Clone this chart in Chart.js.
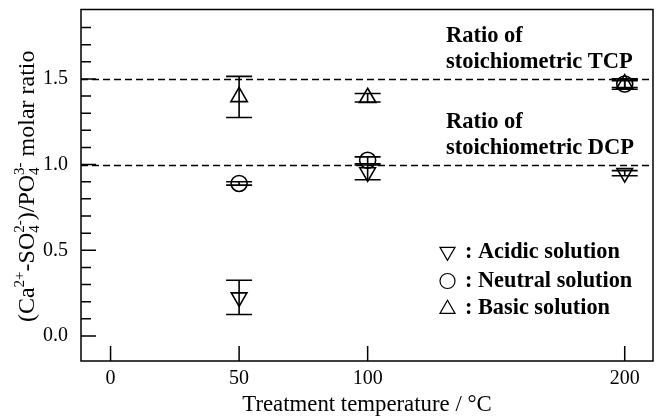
<!DOCTYPE html>
<html>
<head>
<meta charset="utf-8">
<script src="https://cdn.jsdelivr.net/npm/chart.js@4/dist/chart.umd.min.js"></script>
<style>
  html, body { margin: 0; padding: 0; background: #fff; }
  #wrap { width: 660px; height: 419px; }
</style>
</head>
<body>
<div id="wrap"><canvas id="c" width="660" height="419"></canvas></div>
<script>
// Treatment temperatures (°C) and measured molar ratios with their error bars
const temperatures = [50, 100, 200];
const acidicRatio  = [0.225, 0.955, 0.95];
const acidicErr    = [0.10, 0.043, 0.015];
const neutralRatio = [0.89, 1.025, 1.47];
const neutralErr   = [0.01, 0.02, 0.02];
const basicRatio   = [1.395, 1.39, 1.47];
const basicErr     = [0.12, 0.025, 0.03];

// Axis ticks
const xTickValues = [0, 50, 100, 200];
const yTickValues = [0.0, 0.5, 1.0, 1.5];
const yMinorStep = 0.1;
const yMinorMax = 1.8;

// Stoichiometric reference ratios and their labels
const refRatios = [1.5, 1.0];
const refLabels = [["Ratio of", "stoichiometric TCP"], ["Ratio of", "stoichiometric DCP"]];

const seriesNames = ["Acidic solution", "Neutral solution", "Basic solution"];

const SERIF = "'Liberation Serif', 'Times New Roman', serif";

// plot box inside the 660 x 419 canvas
const PLOT = { left: 81, top: 9.5, right: 653, bottom: 361 };

function toPoints(xs, ys) { return xs.map((x, i) => ({ x: x, y: ys[i] })); }

const errorSets = [acidicErr, neutralErr, basicErr];

function drawShape(ctx, style, x, y, r) {
  ctx.beginPath();
  if (style === 'circle') {
    ctx.arc(x, y, r, 0, Math.PI * 2);
  } else {
    const dir = style === 'down' ? 1 : -1;
    const h = r * Math.sqrt(3) / 2;
    ctx.moveTo(x, y + dir * r);
    ctx.lineTo(x - h, y - dir * r / 2);
    ctx.lineTo(x + h, y - dir * r / 2);
    ctx.closePath();
  }
  ctx.stroke();
}

// pin the chart area and both scales to the fixed plot box
const boxPlugin = {
  id: 'fixedBox',
  afterLayout(chart) {
    const { x, y } = chart.scales;
    const w = PLOT.right - PLOT.left, h = PLOT.bottom - PLOT.top;
    Object.assign(chart.chartArea, PLOT, { width: w, height: h });
    Object.assign(x, { left: PLOT.left, right: PLOT.right, width: w, top: PLOT.bottom, bottom: chart.height, height: chart.height - PLOT.bottom });
    Object.assign(y, { left: 0, right: PLOT.left, width: PLOT.left, top: PLOT.top, bottom: PLOT.bottom, height: h });
    x.configure();
    y.configure();
  }
};

const decorPlugin = {
  id: 'decor',
  beforeDatasetsDraw(chart) {
    const { ctx, chartArea: a, scales: { x, y } } = chart;
    ctx.save();
    // dashed stoichiometric reference lines
    ctx.strokeStyle = '#000';
    ctx.lineWidth = 1.3;
    ctx.setLineDash([7, 4]);
    refRatios.forEach(v => {
      const py = Math.round(y.getPixelForValue(v)) + 0.5;
      ctx.beginPath();
      ctx.moveTo(a.left, py);
      ctx.lineTo(a.right, py);
      ctx.stroke();
    });
    ctx.setLineDash([]);
    // error bars
    ctx.lineWidth = 1.6;
    chart.data.datasets.forEach((ds, di) => {
      const errs = errorSets[di];
      ds.data.forEach((p, i) => {
        const px = x.getPixelForValue(p.x);
        const top = y.getPixelForValue(p.y + errs[i]);
        const bot = y.getPixelForValue(p.y - errs[i]);
        ctx.beginPath();
        ctx.moveTo(px, top); ctx.lineTo(px, bot);
        ctx.moveTo(px - 13, top); ctx.lineTo(px + 13, top);
        ctx.moveTo(px - 13, bot); ctx.lineTo(px + 13, bot);
        ctx.stroke();
      });
    });
    ctx.restore();
  },
  afterDraw(chart) {
    const { ctx, chartArea: a, scales: { x, y } } = chart;
    ctx.save();
    ctx.strokeStyle = '#000';
    ctx.fillStyle = '#000';
    // frame
    ctx.lineWidth = 1.5;
    ctx.strokeRect(a.left, a.top, a.right - a.left, a.bottom - a.top);
    // inward tick marks
    ctx.beginPath();
    for (let v = 0; v <= yMinorMax + 1e-9; v += yMinorStep) {
      const val = Math.round(v * 10) / 10;
      const major = yTickValues.some(t => Math.abs(t - val) < 1e-6);
      const py = y.getPixelForValue(val);
      ctx.moveTo(a.left, py);
      ctx.lineTo(a.left + (major ? 15 : 10), py);
    }
    xTickValues.forEach(v => {
      const px = x.getPixelForValue(v);
      ctx.moveTo(px, a.bottom);
      ctx.lineTo(px, a.bottom - 15);
    });
    ctx.stroke();

    // reference labels
    ctx.font = "bold 22.5px " + SERIF;
    ctx.textAlign = 'left';
    ctx.textBaseline = 'alphabetic';
    refRatios.forEach((v, i) => {
      const py = y.getPixelForValue(v);
      ctx.fillText(refLabels[i][0], 446, py - 37);
      ctx.fillText(refLabels[i][1], 446, py - 10.5);
    });

    // legend
    const styles = ['down', 'circle', 'up'];
    const legY = [251.7, 281, 309];
    const textY = [258, 287, 314];
    ctx.font = "bold 22.3px " + SERIF;
    ctx.lineWidth = 1.2;
    seriesNames.forEach((name, i) => {
      drawShape(ctx, styles[i], 447.5, legY[i], styles[i] === 'circle' ? 7.5 : 8.7);
      ctx.fillText(": " + name, 465, textY[i]);
    });

    // y-axis title with super/subscripts
    const parts = [
      { t: "(Ca" }, { sup: "2+" }, { t: "-SO" }, { sub: "4", sup: "2-" },
      { t: ")/PO" }, { sub: "4", sup: "3-" }, { t: " molar ratio" }
    ];
    const big = "24px " + SERIF, small = "15px " + SERIF;
    let total = 0;
    parts.forEach(p => {
      if (p.t) { ctx.font = big; p.w = ctx.measureText(p.t).width; }
      else {
        ctx.font = small;
        p.w = Math.max(p.sub ? ctx.measureText(p.sub).width : 0, p.sup ? ctx.measureText(p.sup).width : 0);
      }
      total += p.w;
    });
    ctx.translate(34, (a.top + a.bottom) / 2 + 1);
    ctx.rotate(-Math.PI / 2);
    let cx = -total / 2;
    parts.forEach(p => {
      if (p.t) { ctx.font = big; ctx.fillText(p.t, cx, 0); }
      else {
        ctx.font = small;
        if (p.sup) ctx.fillText(p.sup, cx, -10.5);
        if (p.sub) ctx.fillText(p.sub, cx, 5);
      }
      cx += p.w;
    });
    ctx.restore();
  }
};

new Chart(document.getElementById('c'), {
  type: 'scatter',
  data: {
    datasets: [
      { label: seriesNames[0], data: toPoints(temperatures, acidicRatio), pointStyle: 'triangle', rotation: 180, pointRadius: 9 },
      { label: seriesNames[1], data: toPoints(temperatures, neutralRatio), pointStyle: 'circle', pointRadius: 8 },
      { label: seriesNames[2], data: toPoints(temperatures, basicRatio), pointStyle: 'triangle', pointRadius: 9.5 }
    ].map(d => Object.assign(d, {
      backgroundColor: 'rgba(0,0,0,0)',
      borderColor: '#000',
      pointBorderWidth: 1.6,
      pointHoverRadius: d.pointRadius
    }))
  },
  options: {
    responsive: false,
    animation: false,
    plugins: { legend: { display: false }, tooltip: { enabled: false } },
    scales: {
      x: {
        type: 'linear',
        min: -11.5, max: 211,
        afterBuildTicks: s => { s.ticks = xTickValues.map(v => ({ value: v })); },
        grid: { display: false, drawTicks: false },
        border: { display: false },
        ticks: { color: '#000', font: { family: SERIF, size: 20 }, padding: 6, maxRotation: 0, autoSkip: false },
        title: { display: true, text: 'Treatment temperature / °C', color: '#000', font: { family: SERIF, size: 22.8 }, padding: { top: 0, bottom: 0 } }
      },
      y: {
        min: -0.146, max: 1.905,
        afterBuildTicks: s => { s.ticks = yTickValues.map(v => ({ value: v })); },
        grid: { display: false, drawTicks: false },
        border: { display: false },
        ticks: { color: '#000', font: { family: SERIF, size: 20 }, padding: 13, callback: v => v.toFixed(1) }
      }
    }
  },
  plugins: [boxPlugin, decorPlugin]
});
</script>
</body>
</html>
